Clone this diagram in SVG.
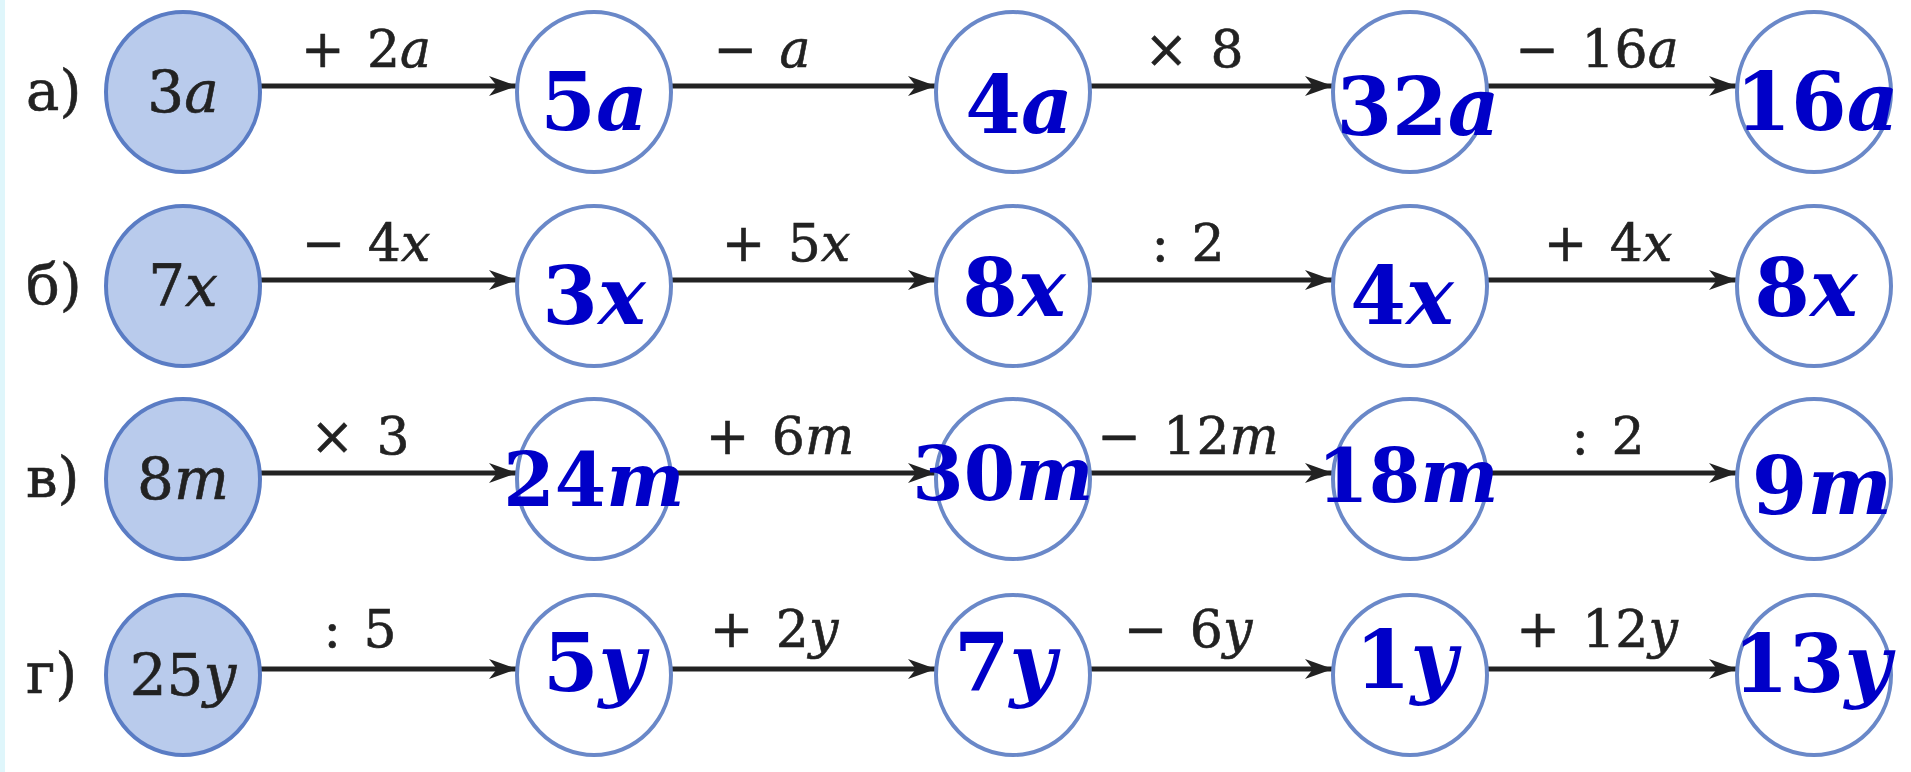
<svg xmlns="http://www.w3.org/2000/svg" width="1911" height="772" viewBox="0 0 1911 772">
<style>
.bg{fill:#ffffff}
.edge{fill:#dff6fb}
.src{fill:#b9cbec;stroke:#5a7cc4;stroke-width:4}
.dst{fill:#ffffff;stroke:#6a88c8;stroke-width:4}
.conn{stroke:#222222;stroke-width:5;fill:none;marker-end:url(#ah)}
.lbl{font-family:"DejaVu Serif","Liberation Serif",serif;font-size:52px;fill:#222222;text-anchor:middle;word-spacing:6px;stroke:#222222;stroke-width:0.6}
.row{font-family:"DejaVu Serif","Liberation Serif",serif;font-size:56px;fill:#222222;stroke:#222222;stroke-width:0.6}
.st{font-family:"DejaVu Serif","Liberation Serif",serif;font-size:58px;fill:#222222;text-anchor:middle;stroke:#222222;stroke-width:0.6}
.ans{font-family:"DejaVu Serif","Liberation Serif",serif;font-size:80px;font-weight:bold;fill:#0000c8;text-anchor:middle}
.sm{font-size:74px}
.i{font-style:italic}
</style>
<defs>
<marker id="ah" markerUnits="userSpaceOnUse" markerWidth="30" markerHeight="22" refX="28" refY="11" orient="auto">
<path d="M0,1 L28,11 L0,21 L8,11 Z" fill="#222222"/>
</marker>
</defs>
<rect class="bg" x="0" y="0" width="1911" height="772"/>
<rect class="edge" x="0" y="0" width="5" height="772"/>

<g id="row-labels">
<text class="row" x="26" y="110">а)</text>
<text class="row" x="26" y="304">б)</text>
<text class="row" x="26" y="497">в)</text>
<text class="row" x="26" y="693">г)</text>
</g>

<g id="connectors">
<line class="conn" x1="260" y1="86" x2="517" y2="86"/>
<line class="conn" x1="671" y1="86" x2="936" y2="86"/>
<line class="conn" x1="1090" y1="86" x2="1333" y2="86"/>
<line class="conn" x1="1487" y1="86" x2="1737" y2="86"/>

<line class="conn" x1="260" y1="280" x2="517" y2="280"/>
<line class="conn" x1="671" y1="280" x2="936" y2="280"/>
<line class="conn" x1="1090" y1="280" x2="1333" y2="280"/>
<line class="conn" x1="1487" y1="280" x2="1737" y2="280"/>

<line class="conn" x1="260" y1="473" x2="517" y2="473"/>
<line class="conn" x1="671" y1="473" x2="936" y2="473"/>
<line class="conn" x1="1090" y1="473" x2="1333" y2="473"/>
<line class="conn" x1="1487" y1="473" x2="1737" y2="473"/>

<line class="conn" x1="260" y1="669" x2="517" y2="669"/>
<line class="conn" x1="671" y1="669" x2="936" y2="669"/>
<line class="conn" x1="1090" y1="669" x2="1333" y2="669"/>
<line class="conn" x1="1487" y1="669" x2="1737" y2="669"/>
</g>

<g id="edge-labels">
<text class="lbl" x="366" y="67">+ 2<tspan class="i">a</tspan></text>
<text class="lbl" x="762" y="67">− <tspan class="i">a</tspan></text>
<text class="lbl" x="1194" y="67">× 8</text>
<text class="lbl" x="1597" y="67">− 16<tspan class="i">a</tspan></text>

<text class="lbl" x="366" y="261">− 4<tspan class="i">x</tspan></text>
<text class="lbl" x="786" y="261">+ 5<tspan class="i">x</tspan></text>
<text class="lbl" x="1188" y="261">: 2</text>
<text class="lbl" x="1608" y="261">+ 4<tspan class="i">x</tspan></text>

<text class="lbl" x="360" y="454">× 3</text>
<text class="lbl" x="780" y="454">+ 6<tspan class="i">m</tspan></text>
<text class="lbl" x="1188" y="454">− 12<tspan class="i">m</tspan></text>
<text class="lbl" x="1608" y="454">: 2</text>

<text class="lbl" x="360" y="647">: 5</text>
<text class="lbl" x="774" y="647">+ 2<tspan class="i">y</tspan></text>
<text class="lbl" x="1188" y="647">− 6<tspan class="i">y</tspan></text>
<text class="lbl" x="1597" y="647">+ 12<tspan class="i">y</tspan></text>
</g>

<g id="a1"><ellipse class="src" cx="183" cy="92" rx="77" ry="80"/><text class="st" x="183" y="112">3<tspan class="i">a</tspan></text></g>
<g id="a2"><ellipse class="dst" cx="594" cy="92" rx="77" ry="80"/><text class="ans" x="594" y="130">5<tspan class="i">a</tspan></text></g>
<g id="a3"><ellipse class="dst" cx="1013" cy="92" rx="77" ry="80"/><text class="ans" x="1019" y="133">4<tspan class="i">a</tspan></text></g>
<g id="a4"><ellipse class="dst" cx="1410" cy="92" rx="77" ry="80"/><text class="ans" x="1418" y="135">32<tspan class="i">a</tspan></text></g>
<g id="a5"><ellipse class="dst" cx="1814" cy="92" rx="77" ry="80"/><text class="ans" x="1817" y="130">16<tspan class="i">a</tspan></text></g>

<g id="b1"><ellipse class="src" cx="183" cy="286" rx="77" ry="80"/><text class="st" x="183" y="306">7<tspan class="i">x</tspan></text></g>
<g id="b2"><ellipse class="dst" cx="594" cy="286" rx="77" ry="80"/><text class="ans" x="594" y="324">3<tspan class="i">x</tspan></text></g>
<g id="b3"><ellipse class="dst" cx="1013" cy="286" rx="77" ry="80"/><text class="ans" x="1014" y="316">8<tspan class="i">x</tspan></text></g>
<g id="b4"><ellipse class="dst" cx="1410" cy="286" rx="77" ry="80"/><text class="ans" x="1402" y="324">4<tspan class="i">x</tspan></text></g>
<g id="b5"><ellipse class="dst" cx="1814" cy="286" rx="77" ry="80"/><text class="ans" x="1806" y="316">8<tspan class="i">x</tspan></text></g>

<g id="c1"><ellipse class="src" cx="183" cy="479" rx="77" ry="80"/><text class="st" x="183" y="499">8<tspan class="i">m</tspan></text></g>
<g id="c2"><ellipse class="dst" cx="594" cy="479" rx="77" ry="80"/><text class="ans sm" x="594" y="506">24<tspan class="i">m</tspan></text></g>
<g id="c3"><ellipse class="dst" cx="1013" cy="479" rx="77" ry="80"/><text class="ans sm" x="1003" y="500">30<tspan class="i">m</tspan></text></g>
<g id="c4"><ellipse class="dst" cx="1410" cy="479" rx="77" ry="80"/><text class="ans sm" x="1408" y="502">18<tspan class="i">m</tspan></text></g>
<g id="c5"><ellipse class="dst" cx="1814" cy="479" rx="77" ry="80"/><text class="ans" x="1822" y="514">9<tspan class="i">m</tspan></text></g>

<g id="d1"><ellipse class="src" cx="183" cy="675" rx="77" ry="80"/><text class="st" x="183" y="695">25<tspan class="i">y</tspan></text></g>
<g id="d2"><ellipse class="dst" cx="594" cy="675" rx="77" ry="80"/><text class="ans" x="594" y="691">5<tspan class="i">y</tspan></text></g>
<g id="d3"><ellipse class="dst" cx="1013" cy="675" rx="77" ry="80"/><text class="ans" x="1005" y="691">7<tspan class="i">y</tspan></text></g>
<g id="d4"><ellipse class="dst" cx="1410" cy="675" rx="77" ry="80"/><text class="ans" x="1406" y="688">1<tspan class="i">y</tspan></text></g>
<g id="d5"><ellipse class="dst" cx="1814" cy="675" rx="77" ry="80"/><text class="ans" x="1812" y="692">13<tspan class="i">y</tspan></text></g>
</svg>
